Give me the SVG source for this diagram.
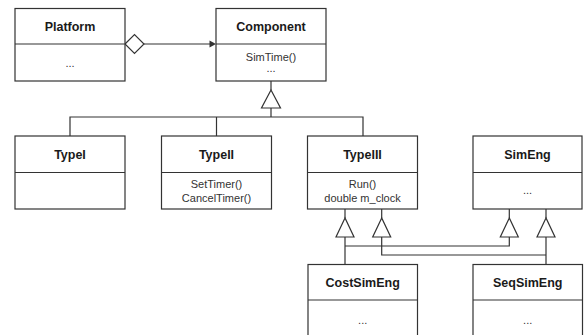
<svg xmlns="http://www.w3.org/2000/svg" width="584" height="335" viewBox="0 0 584 335">
<style>
.box{fill:#fff;stroke:#333;stroke-width:1.2}
.div{stroke:#333;stroke-width:1.2}
.t{font-family:"Liberation Sans",Arial,sans-serif;font-size:12.5px;font-weight:bold;fill:#1a1a1a;text-anchor:middle}
.b{font-family:"Liberation Sans",Arial,sans-serif;font-size:11px;fill:#333;text-anchor:middle}
.c{fill:none;stroke:#333;stroke-width:1.2}
.tri{fill:#fff;stroke:#333;stroke-width:1.2}
</style>
<rect width="584" height="335" fill="#fff"/>
<g id="connectors">
  <line class="c" x1="144" y1="44" x2="211" y2="44"/>
  <polygon points="216,44 209.5,40.5 209.5,47.5" fill="#333"/>
  <polygon class="tri" points="125,44 134.5,34.5 144,44 134.5,53.5"/>
  <line class="c" x1="271" y1="81" x2="271" y2="90"/>
  <polygon class="tri" points="271,90 261.5,108 280.5,108"/>
  <polyline class="c" points="271,108 271,117"/>
  <polyline class="c" points="70,136 70,117 363,117 363,136"/>
  <line class="c" x1="216.5" y1="117" x2="216.5" y2="136"/>
  <line class="c" x1="345" y1="209" x2="345" y2="218"/>
  <polygon class="tri" points="345,218 336,237 354,237"/>
  <line class="c" x1="381.7" y1="209" x2="381.7" y2="218"/>
  <polygon class="tri" points="381.7,218 372.7,237 390.7,237"/>
  <line class="c" x1="509.3" y1="209" x2="509.3" y2="218"/>
  <polygon class="tri" points="509.3,218 500.3,237 518.3,237"/>
  <line class="c" x1="546" y1="209" x2="546" y2="218"/>
  <polygon class="tri" points="546,218 537,237 555,237"/>
  <polyline class="c" points="345,237 345,264"/>
  <polyline class="c" points="345,246 509.3,246 509.3,237"/>
  <polyline class="c" points="381.7,237 381.7,255 546,255"/>
  <polyline class="c" points="546,237 546,264"/>
</g>
<g id="Platform">
  <rect class="box" x="15" y="8.5" width="110" height="72.5"/>
  <line class="div" x1="15" y1="44" x2="125" y2="44"/>
  <text class="t" x="70" y="30.5">Platform</text>
  <text class="b" x="70" y="67">...</text>
</g>
<g id="Component">
  <rect class="box" x="216" y="8.5" width="110" height="72.5"/>
  <line class="div" x1="216" y1="44" x2="326" y2="44"/>
  <text class="t" x="271" y="30.5">Component</text>
  <text class="b" x="271" y="60.5">SimTime()</text>
  <text class="b" x="271" y="72">...</text>
</g>
<g id="TypeI">
  <rect class="box" x="15" y="136" width="110" height="73"/>
  <line class="div" x1="15" y1="172.5" x2="125" y2="172.5"/>
  <text class="t" x="70" y="158.5">TypeI</text>
</g>
<g id="TypeII">
  <rect class="box" x="161.5" y="136" width="110" height="73"/>
  <line class="div" x1="161.5" y1="172.5" x2="271.5" y2="172.5"/>
  <text class="t" x="216.5" y="158.5">TypeII</text>
  <text class="b" x="216.5" y="188">SetTimer()</text>
  <text class="b" x="216.5" y="202">CancelTimer()</text>
</g>
<g id="TypeIII">
  <rect class="box" x="307.5" y="136" width="110" height="73"/>
  <line class="div" x1="307.5" y1="172.5" x2="417.5" y2="172.5"/>
  <text class="t" x="362.5" y="158.5">TypeIII</text>
  <text class="b" x="362.5" y="188">Run()</text>
  <text class="b" x="362.5" y="202">double m_clock</text>
</g>
<g id="SimEng">
  <rect class="box" x="473" y="136" width="109" height="73"/>
  <line class="div" x1="473" y1="172.5" x2="582" y2="172.5"/>
  <text class="t" x="527.5" y="158.5">SimEng</text>
  <text class="b" x="527.5" y="193.5">...</text>
</g>
<g id="CostSimEng">
  <rect class="box" x="308" y="264.5" width="109.5" height="80"/>
  <line class="div" x1="308" y1="300" x2="417.5" y2="300"/>
  <text class="t" x="362.7" y="287">CostSimEng</text>
  <text class="b" x="362.7" y="323.5">...</text>
</g>
<g id="SeqSimEng">
  <rect class="box" x="473" y="264.5" width="109.5" height="80"/>
  <line class="div" x1="473" y1="300" x2="582.5" y2="300"/>
  <text class="t" x="527.7" y="287">SeqSimEng</text>
  <text class="b" x="527.7" y="323.5">...</text>
</g>
</svg>
